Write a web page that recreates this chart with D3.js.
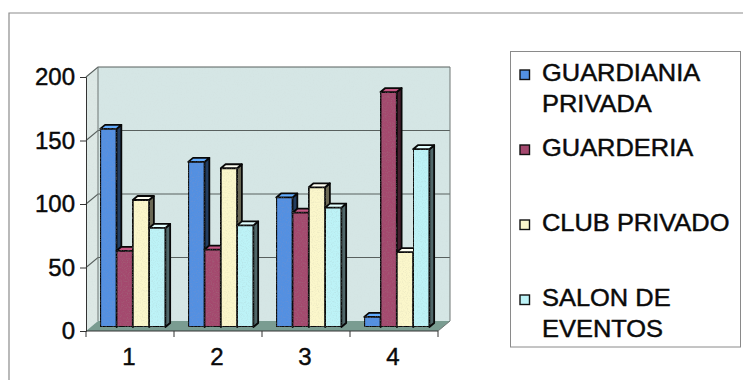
<!DOCTYPE html>
<html>
<head>
<meta charset="utf-8">
<script src="https://cdn.jsdelivr.net/npm/d3@7"></script>
<style>
  html, body { margin: 0; padding: 0; background: #fff; }
  svg { display: block; }
  text { font-family: "Liberation Sans", Arial, sans-serif; fill: #0a0a0a; stroke: #0a0a0a; stroke-width: 0.45px; }
</style>
</head>
<body>
<svg id="chart" width="743" height="380"></svg>
<script>
// Categories (front axis) and series values
const categories = ["1", "2", "3", "4"];
const seriesNames = ["GUARDIANIA PRIVADA", "GUARDERIA", "CLUB PRIVADO", "SALON DE EVENTOS"];
const legendLines = [["GUARDIANIA", "PRIVADA"], ["GUARDERIA"], ["CLUB PRIVADO"], ["SALON DE", "EVENTOS"]];
const guardianiaPrivada = [156, 130, 102, 8];
const guarderia = [60, 61, 90, 185];
const clubPrivado = [100, 125, 110, 59];
const salonEventos = [78, 80, 94, 140];
const yTicks = [0, 50, 100, 150, 200];
const seriesColors = ["#5290e2", "#a4486e", "#fbf7cb", "#bdf3f7"];

const seriesValues = [guardianiaPrivada, guarderia, clubPrivado, salonEventos];

const svg = d3.select("#chart");

// Oblique projection: front plane plus a depth vector for the walls
const plot = { left: 86, right: 438, top: 77, bottom: 331 };
const depth = { dx: 12, dy: -10 };
const barZ0 = 0.4, barZ1 = 0.8;   // bar front/back as fractions of floor depth

const x0 = d3.scaleBand().domain(categories).range([plot.left, plot.right]).padding(0);
const y = d3.scaleLinear().domain([0, 200]).range([plot.bottom, plot.top]);
const clusterFrac = 0.74;
const x1 = d3.scaleBand().domain(seriesNames).range([0, x0.bandwidth() * clusterFrac]).padding(0);

const P = (px, py, z) => [px + depth.dx * z, py + depth.dy * z];
const poly = pts => "M" + pts.map(p => p.join(",")).join("L") + "Z";

// Grain filter for the textured wall and bar surfaces
const defs = svg.append("defs");
function grain(id, freq, strength, seed, tone) {
  const f = defs.append("filter").attr("id", id).attr("x", 0).attr("y", 0).attr("width", 1).attr("height", 1);
  f.append("feTurbulence").attr("type", "fractalNoise").attr("baseFrequency", freq)
    .attr("numOctaves", 2).attr("seed", seed).attr("result", "t");
  f.append("feColorMatrix").attr("in", "t").attr("type", "matrix")
    .attr("values", `0 0 0 0 ${tone[0]}  0 0 0 0 ${tone[1]}  0 0 0 0 ${tone[2]}  ${strength} 0 0 0 ${-strength * 0.46}`)
    .attr("result", "n");
  f.append("feComposite").attr("in", "n").attr("in2", "SourceAlpha").attr("operator", "in").attr("result", "nc");
  const m = f.append("feMerge");
  m.append("feMergeNode").attr("in", "SourceGraphic");
  m.append("feMergeNode").attr("in", "nc");
}
grain("wallGrain", 0.75, 0.8, 4, [0.62, 0.72, 0.71]);
grain("barGrain", 0.8, 0.5, 9, [0.3, 0.3, 0.3]);

// Outer chart frame
svg.append("path").attr("d", "M9,380V13H743").attr("fill", "none")
  .attr("stroke", "#8c8c8c").attr("stroke-width", 1.2);

// Walls and floor
const g = svg.append("g");
const yTop = y(200), yBase = y(0);
g.append("path").attr("d", poly([P(plot.left, yTop, 1), P(plot.right, yTop, 1), P(plot.right, yBase, 1), P(plot.left, yBase, 1)]))
  .attr("fill", "#d5e6e5").attr("filter", "url(#wallGrain)");
g.append("path").attr("d", poly([P(plot.left, yTop, 0), P(plot.left, yTop, 1), P(plot.left, yBase, 1), P(plot.left, yBase, 0)]))
  .attr("fill", "#dde8e5").attr("filter", "url(#wallGrain)");
g.append("path").attr("d", poly([P(plot.left, yBase, 0), P(plot.right, yBase, 0), P(plot.right, yBase, 1), P(plot.left, yBase, 1)]))
  .attr("fill", "#7a9c91");

// Gridlines across left wall and back wall
yTicks.filter(t => t > 0).forEach(t => {
  const a = P(plot.left, y(t), 0), b = P(plot.left, y(t), 1), c = P(plot.right, y(t), 1);
  g.append("path").attr("d", `M${a}L${b}L${c}`).attr("fill", "none")
    .attr("stroke", "#58605e").attr("stroke-width", 1.1);
});
// Wall edges
g.append("path").attr("d", `M${P(plot.left, yBase, 1)}L${P(plot.left, yTop, 1)}`).attr("stroke", "#6f7775").attr("stroke-width", 1);
g.append("path").attr("d", `M${P(plot.right, yTop, 1)}L${P(plot.right, yBase, 1)}L${P(plot.right, yBase, 0)}`)
  .attr("fill", "none").attr("stroke", "#6f7775").attr("stroke-width", 1);

// Axes on the front plane
const yAxis = d3.axisLeft(y).tickValues(yTicks).tickSize(6).tickPadding(5);
const yg = svg.append("g").attr("transform", `translate(${plot.left},0)`).call(yAxis);
yg.select(".domain").attr("stroke", "#333");
yg.selectAll(".tick line").attr("stroke", "#333");
yg.selectAll(".tick text").attr("font-size", 24).attr("font-family", "Liberation Sans, Arial, sans-serif")
  .attr("fill", "#0a0a0a").attr("x", -11);

const xg = svg.append("g").attr("transform", `translate(0,${plot.bottom})`);
xg.append("line").attr("x1", plot.left).attr("x2", plot.right).attr("stroke", "#333");
const bounds = categories.map(c => x0(c)).concat([plot.right]);
xg.selectAll("line.tk").data(bounds).join("line").attr("class", "tk")
  .attr("x1", d => d).attr("x2", d => d).attr("y1", 0).attr("y2", 6).attr("stroke", "#333");
xg.selectAll("text").data(categories).join("text")
  .attr("x", d => x0(d) + x0.bandwidth() / 2 - 1)
  .attr("y", 34).attr("text-anchor", "middle").attr("font-size", 24).text(d => d);

// Bars: per category, drawn left to right so each front face covers its neighbour's side
const bars = svg.append("g").attr("stroke", "#080808").attr("stroke-width", 1.8).attr("stroke-linejoin", "round");
categories.forEach((cat, ci) => {
  const start = x0(cat) + (x0.bandwidth() * (1 - clusterFrac)) / 2 - 2;
  seriesNames.forEach((name, si) => {
    const v = seriesValues[si][ci];
    const xa = start + x1(name), xb = xa + x1.bandwidth();
    const yt = y(v), yb = y(0);
    const col = d3.color(seriesColors[si]);
    const f0 = P(xa, yt, barZ0), f1 = P(xb, yt, barZ0), f2 = P(xb, yb, barZ0), f3 = P(xa, yb, barZ0);
    const b0 = P(xa, yt, barZ1), b1 = P(xb, yt, barZ1), b2 = P(xb, yb, barZ1);
    const bar = bars.append("g");
    bar.append("path").attr("d", poly([f1, b1, b2, f2])).attr("fill", col.darker(2.4));
    bar.append("path").attr("d", poly([f0, f1, b1, b0])).attr("fill", col.brighter(0.5));
    bar.append("path").attr("d", poly([f0, f1, f2, f3])).attr("fill", col).attr("filter", "url(#barGrain)");
  });
});

// Legend
const lg = svg.append("g");
lg.append("rect").attr("x", 510.5).attr("y", 51.5).attr("width", 230).attr("height", 295.5)
  .attr("fill", "#fff").attr("stroke", "#8a8a8a").attr("stroke-width", 1);
seriesNames.forEach((name, i) => {
  const top = 70 + i * 75;
  lg.append("rect").attr("x", 520).attr("y", top).attr("width", 9.5).attr("height", 9.5)
    .attr("fill", seriesColors[i]).attr("stroke", "#111").attr("stroke-width", 1.4);
  const t = lg.append("text").attr("y", top + 11.5).attr("font-size", 24)
    .attr("transform", `translate(542,0) scale(1.06,1)`);
  legendLines[i].forEach((ln, k) => {
    t.append("tspan").attr("x", 0).attr("dy", k === 0 ? 0 : 30.5).text(ln);
  });
});
</script>
</body>
</html>
